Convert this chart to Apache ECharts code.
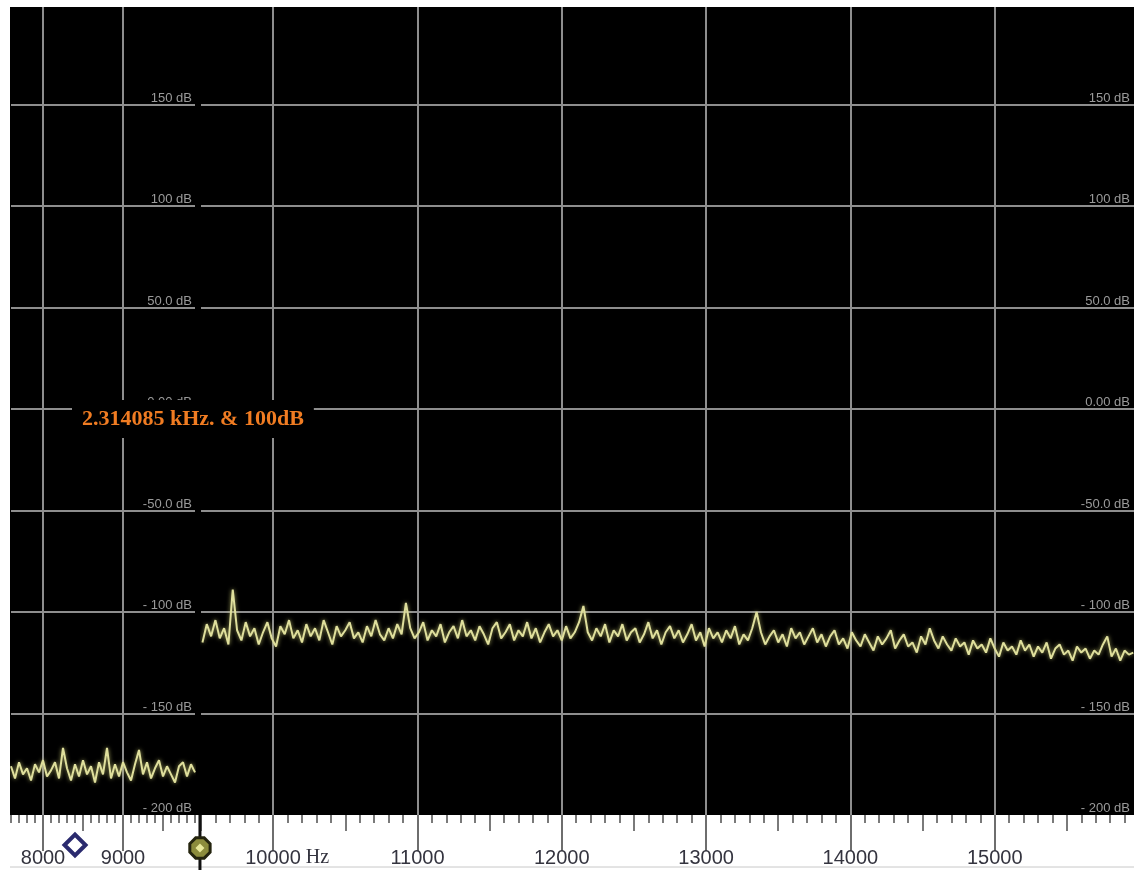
<!DOCTYPE html>
<html><head><meta charset="utf-8">
<script src="https://cdn.jsdelivr.net/npm/echarts@6/dist/echarts.min.js"></script>
<style>html,body{margin:0;padding:0;background:#fff;}#c{width:1134px;height:870px;}</style>
</head><body><div id="c"></div>
<script>
// ---- data ----
const Y_TICKS = [-200, -150, -100, -50, 0, 50, 100, 150];
const Y_LABELS = ['- 200 dB', '- 150 dB', '- 100 dB', '-50.0 dB', '0.00 dB', '50.0 dB', '100 dB', '150 dB'];
const LEFT_MAJOR = [8000, 9000];
const LEFT_HALF = [8500, 9500];
const RIGHT_MAJOR = [10000, 11000, 12000, 13000, 14000, 15000];
const RIGHT_HALF = [9500, 10500, 11500, 12500, 13500, 14500, 15500];

const LEFT_START = 7600, LEFT_STEP = 50;
const LEFT_DB = [
  -176,-182,-174,-180,-177,-183,-175,-179,-173,-181,
  -178,-174,-182,-167,-177,-183,-175,-181,-173,-180,
  -176,-184,-174,-180,-167,-182,-175,-181,-174,-179,
  -183,-175,-168,-180,-174,-182,-177,-173,-181,-176,
  -180,-184,-176,-174,-181,-175,-179
];
const RIGHT_START = 9510, RIGHT_STEP = 30;
const RIGHT_DB = [
  -115,-106,-112,-104,-113,-108,-116,-89,-109,-114,-105,-112,
  -108,-116,-110,-105,-113,-117,-107,-111,-104,-113,-109,-115,
  -106,-112,-108,-114,-104,-110,-116,-107,-112,-109,-105,-113,
  -110,-115,-107,-112,-104,-111,-114,-108,-113,-106,-111,-95.5,
  -108,-113,-110,-105,-114,-109,-112,-106,-115,-110,-107,-113,
  -104,-112,-109,-114,-107,-111,-116,-108,-105,-113,-110,-106,
  -114,-109,-112,-105,-113,-108,-115,-110,-106,-112,-109,-114,
  -107,-113,-110,-105,-97,-110,-114,-108,-112,-106,-115,-109,
  -112,-106,-114,-110,-108,-115,-111,-105,-113,-109,-116,-110,
  -107,-113,-109,-115,-111,-106,-114,-110,-117,-108,-113,-110,
  -115,-109,-113,-107,-116,-111,-114,-108,-100,-110,-116,-112,
  -109,-115,-111,-117,-108,-113,-110,-116,-112,-108,-115,-111,
  -117,-112,-109,-116,-113,-118,-110,-114,-117,-111,-115,-119,
  -112,-116,-113,-109,-118,-114,-111,-117,-115,-120,-112,-116,
  -108,-114,-118,-112,-116,-119,-113,-117,-115,-121,-114,-118,
  -116,-120,-113,-118,-122,-115,-119,-117,-121,-114,-119,-116,
  -122,-117,-120,-115,-123,-118,-116,-121,-119,-124,-117,-120,
  -118,-123,-119,-121,-116,-112,-122,-118,-124,-119,-121,-120
];
const CURSOR_FREQ = 8400;   // blue diamond cursor (left scale)
const MARKER_FREQ = 9962;   // split marker (left scale)
const ANNOTATION = '2.314085 kHz. & 100dB';

// ---- styles ----
const GRID_COLOR = '#8e8e8e';
const TICK_COLOR = '#7a7a7a';
const TRACE_COLOR = '#dfdf9c';
const LABEL_COLOR = '#34343f';

function labelFmt(v) {
  if (v === 10000) return '{p|}{n|' + v + '}{h| Hz}';
  return '{n|' + v + '}';
}
const richLabels = {
  p: { width: 28 },
  n: { fontSize: 20, fontFamily: 'Liberation Sans', color: LABEL_COLOR },
  h: { fontSize: 20, fontFamily: 'Liberation Serif', color: LABEL_COLOR }
};

function xAxes(gridIndex, min, max, major, half) {
  const base = {
    type: 'value', gridIndex, min, max, position: 'bottom', offset: 0,
    axisLine: { show: false, onZero: false }, splitLine: { show: false },
    axisLabel: { show: false }, axisTick: { show: false }, axisPointer: { show: false }
  };
  return [
    Object.assign({}, base, {
      interval: 100,
      axisTick: { show: true, length: 8, lineStyle: { color: TICK_COLOR, width: 2 } }
    }),
    Object.assign({}, base, {
      axisTick: { show: true, customValues: half, length: 16, lineStyle: { color: TICK_COLOR, width: 2 } }
    }),
    Object.assign({}, base, {
      axisTick: { show: true, customValues: major, length: 36, lineStyle: { color: '#6e6e6e', width: 2 } },
      splitLine: { show: true, lineStyle: { color: GRID_COLOR, width: 2 } },
      axisLabel: { show: true, customValues: major, margin: 33, formatter: labelFmt, rich: richLabels }
    })
  ];
}

function yAxis(gridIndex, margin) {
  return {
    type: 'value', gridIndex, min: -200, max: 198, interval: 50, position: 'right',
    axisLine: { show: false, onZero: false }, axisTick: { show: false },
    splitLine: { show: true, showMinLine: false, showMaxLine: false, lineStyle: { color: GRID_COLOR, width: 2 } },
    axisLabel: {
      show: true, inside: true, margin, customValues: Y_TICKS, verticalAlign: 'bottom',
      fontSize: 13, fontFamily: 'Liberation Sans', color: '#9a9a9a',
      formatter: v => { const i = Y_TICKS.indexOf(v); return i >= 0 ? Y_LABELS[i] : ''; }
    }
  };
}

const chart = echarts.init(document.getElementById('c'), null, { renderer: 'canvas' });
const traceStyle = { color: TRACE_COLOR, width: 2, shadowBlur: 4, shadowColor: 'rgba(225,225,130,0.7)' };
const option = {
  animation: false,
  backgroundColor: '#ffffff',
  grid: [
    { left: 11, top: 7, width: 184, height: 808, outerBoundsMode: 'none', containLabel: false },
    { left: 201, top: 7, width: 938, height: 808, outerBoundsMode: 'none', containLabel: false }
  ],
  xAxis: [].concat(
    xAxes(0, 7600, 9900, LEFT_MAJOR, LEFT_HALF),
    xAxes(1, 9500, 16000, RIGHT_MAJOR, RIGHT_HALF)
  ),
  yAxis: [yAxis(0, 3), yAxis(1, 9)],
  series: [
    {
      type: 'line', xAxisIndex: 2, yAxisIndex: 0, showSymbol: false, symbol: 'none',
      lineStyle: traceStyle,
      data: LEFT_DB.map((v, i) => [LEFT_START + i * LEFT_STEP, v]), z: 5
    },
    {
      type: 'line', xAxisIndex: 5, yAxisIndex: 1, showSymbol: false, symbol: 'none',
      lineStyle: traceStyle,
      data: RIGHT_DB.map((v, i) => [RIGHT_START + i * RIGHT_STEP, v]), z: 5
    }
  ]
};
chart.setOption(option);

// decorations positioned from the axes
const stripTop = chart.convertToPixel({ yAxisIndex: 0 }, -200);
const plotTop = chart.convertToPixel({ yAxisIndex: 0 }, 198);
const cx = chart.convertToPixel({ xAxisIndex: 0 }, CURSOR_FREQ);
const mx = chart.convertToPixel({ xAxisIndex: 0 }, MARKER_FREQ);
const cy = stripTop + 30, my = stripTop + 33;
function poly(x, y, r, n, rot) {
  const pts = [];
  for (let k = 0; k < n; k++) { const a = rot + k * 2 * Math.PI / n; pts.push([x + r * Math.cos(a), y + r * Math.sin(a)]); }
  return pts;
}
chart.setOption({
  graphic: [
    { type: 'rect', z: -10, silent: true, shape: { x: 10, y: plotTop, width: 1124, height: stripTop - plotTop }, style: { fill: '#000' } },
    { type: 'line', z: 50, silent: true, shape: { x1: 10, y1: 867, x2: 1134, y2: 867 }, style: { stroke: '#c8c8c8', lineWidth: 1 } },
    { type: 'line', z: 60, silent: true, shape: { x1: mx, y1: stripTop, x2: mx, y2: 870 }, style: { stroke: '#111', lineWidth: 3 } },
    { type: 'polygon', z: 61, silent: true, shape: { points: poly(mx, my, 11, 8, Math.PI / 8) }, style: { fill: '#8c8c3c', stroke: '#24240e', lineWidth: 3 } },
    { type: 'polygon', z: 62, silent: true, shape: { points: poly(mx, my, 4.5, 4, 0) }, style: { fill: '#e8e89a' } },
    { type: 'polygon', z: 61, silent: true, shape: { points: poly(cx, cy, 10.5, 4, 0) }, style: { fill: '#ffffff', stroke: '#2a2a6e', lineWidth: 4 } },
    {
      type: 'text', z: 100, silent: true, left: 72, top: 400,
      style: {
        text: ANNOTATION, fill: '#f07c22', font: 'bold 22px "Liberation Serif"',
        backgroundColor: '#000', padding: [8, 10, 8, 10]
      }
    }
  ]
});
</script>
</body></html>
